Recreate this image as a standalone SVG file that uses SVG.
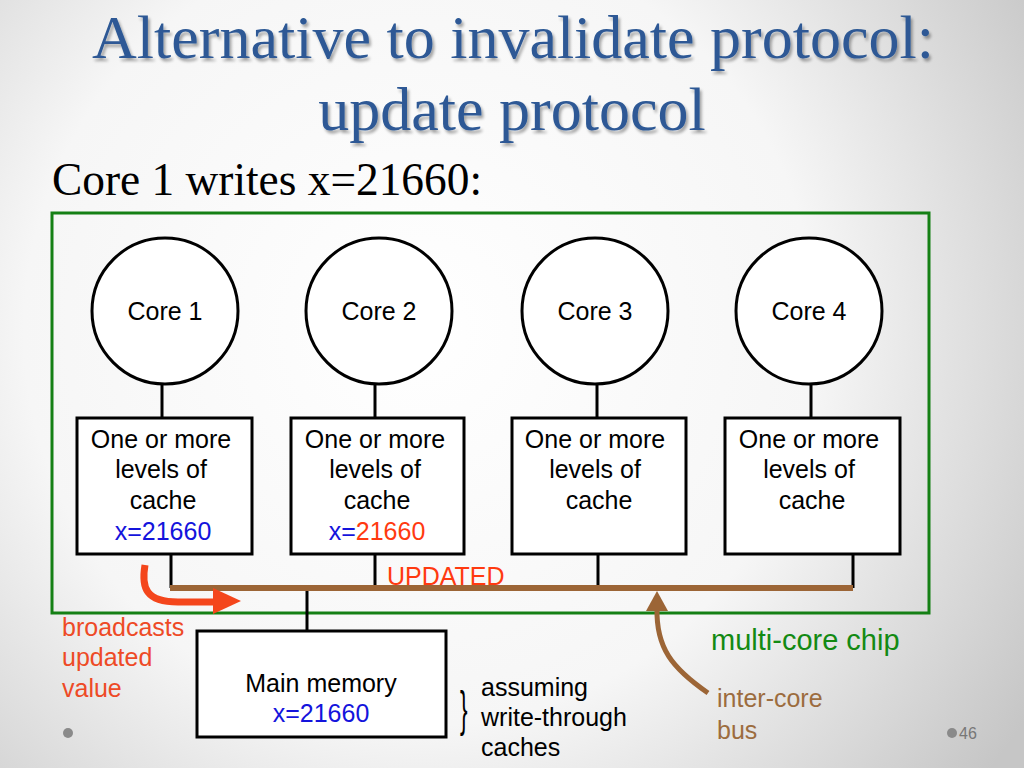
<svg xmlns="http://www.w3.org/2000/svg" width="1024" height="768" viewBox="0 0 1024 768">
<defs>
  <radialGradient id="bg" cx="420" cy="330" r="720" gradientUnits="userSpaceOnUse">
    <stop offset="0" stop-color="#ffffff"/>
    <stop offset="0.55" stop-color="#f6f6f6"/>
    <stop offset="1" stop-color="#c6c6c6"/>
  </radialGradient>
  <filter id="shadow" x="-5%" y="-20%" width="110%" height="140%">
    <feGaussianBlur in="SourceAlpha" stdDeviation="1.5"/>
    <feOffset dx="2" dy="3" result="b"/>
    <feComponentTransfer><feFuncA type="linear" slope="0.35"/></feComponentTransfer>
    <feMerge><feMergeNode/><feMergeNode in="SourceGraphic"/></feMerge>
  </filter>
</defs>
<style>
  .title { font-family: "Liberation Serif", "Times New Roman", serif; font-size: 62px; fill: #2d5995; text-anchor: middle; }
  .sub { font-family: "Liberation Serif", "Times New Roman", serif; font-size: 46px; fill: #000; }
  .t { font-family: "Liberation Sans", Arial, sans-serif; font-size: 25px; fill: #000; }
  .c { text-anchor: middle; }
  .blue { fill: #1414dc; }
  .red { fill: #ff3a10; }
  .shape { fill: #fff; stroke: #000; stroke-width: 3; }
  .wire { stroke: #000; stroke-width: 3; fill: none; }
</style>
<rect x="0" y="0" width="1024" height="768" fill="url(#bg)"/>

<g id="title" filter="url(#shadow)">
  <text class="title" x="513" y="58">Alternative to invalidate protocol:</text>
  <text class="title" x="512" y="130">update protocol</text>
</g>
<text class="sub" x="52" y="195" textLength="430" lengthAdjust="spacingAndGlyphs">Core 1 writes x=21660:</text>

<g id="chip">
  <rect x="52" y="213" width="877" height="400" fill="none" stroke="#158015" stroke-width="3"/>
  <text x="711" y="650" font-family="Liberation Sans, Arial, sans-serif" font-size="29" fill="#138a13">multi-core chip</text>
</g>

<g id="connectors">
  <line class="wire" x1="162" y1="384" x2="162" y2="418"/>
  <line class="wire" x1="375" y1="384" x2="375" y2="418"/>
  <line class="wire" x1="597" y1="384" x2="597" y2="418"/>
  <line class="wire" x1="811" y1="384" x2="811" y2="418"/>
  <line class="wire" x1="171" y1="554" x2="171" y2="588"/>
  <line class="wire" x1="375" y1="554" x2="375" y2="588"/>
  <line class="wire" x1="598" y1="554" x2="598" y2="588"/>
  <line class="wire" x1="853" y1="554" x2="853" y2="588"/>
  <line class="wire" x1="307" y1="588" x2="307" y2="631"/>
  <line id="bus" x1="170" y1="588" x2="853" y2="588" stroke="#9c6536" stroke-width="6"/>
</g>

<g id="core1">
  <circle class="shape" cx="165" cy="311" r="73"/>
  <text class="t c" x="165" y="320">Core 1</text>
</g>
<g id="core2">
  <circle class="shape" cx="379" cy="311" r="73"/>
  <text class="t c" x="379" y="320">Core 2</text>
</g>
<g id="core3">
  <circle class="shape" cx="595" cy="311" r="73"/>
  <text class="t c" x="595" y="320">Core 3</text>
</g>
<g id="core4">
  <circle class="shape" cx="809" cy="311" r="73"/>
  <text class="t c" x="809" y="320">Core 4</text>
</g>

<g id="cache1">
  <rect class="shape" x="77" y="418" width="175" height="136"/>
  <text class="t c" x="161" y="448">One or more</text>
  <text class="t c" x="161" y="478">levels of</text>
  <text class="t c" x="163" y="509">cache</text>
  <text class="t c blue" x="163" y="540">x=21660</text>
</g>
<g id="cache2">
  <rect class="shape" x="291" y="418" width="173" height="136"/>
  <text class="t c" x="375" y="448">One or more</text>
  <text class="t c" x="375" y="478">levels of</text>
  <text class="t c" x="377" y="509">cache</text>
  <text class="t c" x="377" y="540"><tspan class="blue">x=</tspan><tspan class="red">21660</tspan></text>
</g>
<g id="cache3">
  <rect class="shape" x="512" y="418" width="174" height="136"/>
  <text class="t c" x="595" y="448">One or more</text>
  <text class="t c" x="595" y="478">levels of</text>
  <text class="t c" x="599" y="509">cache</text>
</g>
<g id="cache4">
  <rect class="shape" x="725" y="418" width="175" height="136"/>
  <text class="t c" x="809" y="448">One or more</text>
  <text class="t c" x="809" y="478">levels of</text>
  <text class="t c" x="812" y="509">cache</text>
</g>

<g id="memory">
  <rect class="shape" x="197" y="631" width="249" height="106"/>
  <text class="t c" x="321" y="692">Main memory</text>
  <text class="t c blue" x="321" y="722">x=21660</text>
</g>

<text class="t red" x="387" y="585">UPDATED</text>

<g id="broadcast">
  <path d="M145,565 C141,588 146,602 178,602 L216,602" fill="none" stroke="#f4461c" stroke-width="7"/>
  <polygon points="213,588 241,601 213,614" fill="#f4461c"/>
  <text class="t" x="62" y="636" style="fill:#ee4a26">broadcasts</text>
  <text class="t" x="62" y="666" style="fill:#ee4a26">updated</text>
  <text class="t" x="62" y="697" style="fill:#ee4a26">value</text>
</g>

<g id="buslabel">
  <path d="M657,608 C656,648 672,668 708,693" fill="none" stroke="#9c6536" stroke-width="5"/>
  <polygon points="646,611 657,591 668,611" fill="#9c6536"/>
  <text class="t" x="717" y="707" style="fill:#9c6c3e">inter-core</text>
  <text class="t" x="717" y="739" style="fill:#9c6c3e">bus</text>
</g>

<g id="note">
  <text x="460" y="726" font-family="Liberation Sans, Arial, sans-serif" font-size="50" fill="#000" transform="translate(460,726) scale(0.45,1) translate(-460,-726)">}</text>
  <text class="t" x="481" y="696">assuming</text>
  <text class="t" x="481" y="726">write-through</text>
  <text class="t" x="481" y="756">caches</text>
</g>

<circle cx="68" cy="733" r="5" fill="#8a8a8a"/>
<circle cx="952" cy="733" r="5" fill="#8a8a8a"/>
<text x="959" y="739" font-family="Liberation Sans, Arial, sans-serif" font-size="16" fill="#777">46</text>
</svg>
